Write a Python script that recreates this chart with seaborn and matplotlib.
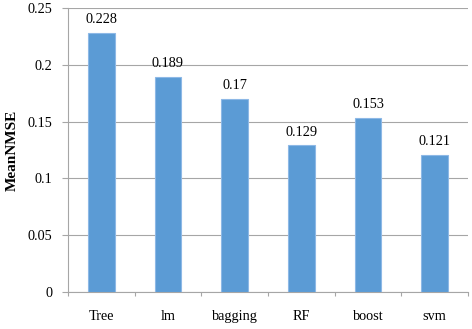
import matplotlib
matplotlib.use("Agg")
import matplotlib.pyplot as plt
import seaborn as sns
import pandas as pd

models = ["Tree", "lm", "bagging", "RF", "boost", "svm"]
mean_nmse = [0.228, 0.189, 0.17, 0.129, 0.153, 0.121]
value_labels = ["0.228", "0.189", "0.17", "0.129", "0.153", "0.121"]
yticks = [0, 0.05, 0.1, 0.15, 0.2, 0.25]
ytick_labels = ["0", "0.05", "0.1", "0.15", "0.2", "0.25"]

sns.set_theme(style="white")
plt.rcParams['font.family'] = ['Liberation Serif', 'DejaVu Serif']

df = pd.DataFrame({"model": models, "MeanNMSE": mean_nmse})

fig = plt.figure(figsize=(4.72, 3.29), dpi=100)
ax = fig.add_axes([68/472, 1 - 292/329, 400/472, 284/329])

sns.barplot(data=df, x="model", y="MeanNMSE", color="#5B9BD5", width=0.4,
            saturation=1, edgecolor="#8DB8E6", linewidth=0.8, ax=ax, zorder=3)

fs = 10.3
ax.set_ylim(0, 0.25)
ax.set_xlim(-0.5, 5.5)
ax.set_yticks(yticks)
ax.set_yticklabels(ytick_labels, fontsize=fs, color="black")
ax.yaxis.grid(True, color="#A6A6A6", linewidth=0.8, zorder=0)
ax.set_axisbelow(True)

ax.set_xticks(range(len(models)))
ax.set_xticklabels(models, fontsize=fs, color="black")
ax.tick_params(axis="x", which="major", length=0, pad=13)
ax.set_xticks([i + 0.5 for i in range(-1, len(models))], minor=True)
ax.tick_params(axis="x", which="minor", length=3, color="#A6A6A6", width=0.8, direction="out", bottom=True)
ax.tick_params(axis="y", length=4.3, color="#A6A6A6", width=0.8, direction="out", left=True, pad=7)

for s in ["top", "right"]:
    ax.spines[s].set_visible(False)
for s in ["left", "bottom"]:
    ax.spines[s].set_color("#A6A6A6")
    ax.spines[s].set_linewidth(0.8)

for i, (v, lab) in enumerate(zip(mean_nmse, value_labels)):
    ax.text(i, v + 0.006, lab, ha="center", va="bottom", fontsize=fs, color="black")

ax.set_xlabel("")
ax.set_ylabel("MeanNMSE", fontsize=11, fontweight="bold", color="black", labelpad=6)

fig.savefig("out.png", dpi=100)
